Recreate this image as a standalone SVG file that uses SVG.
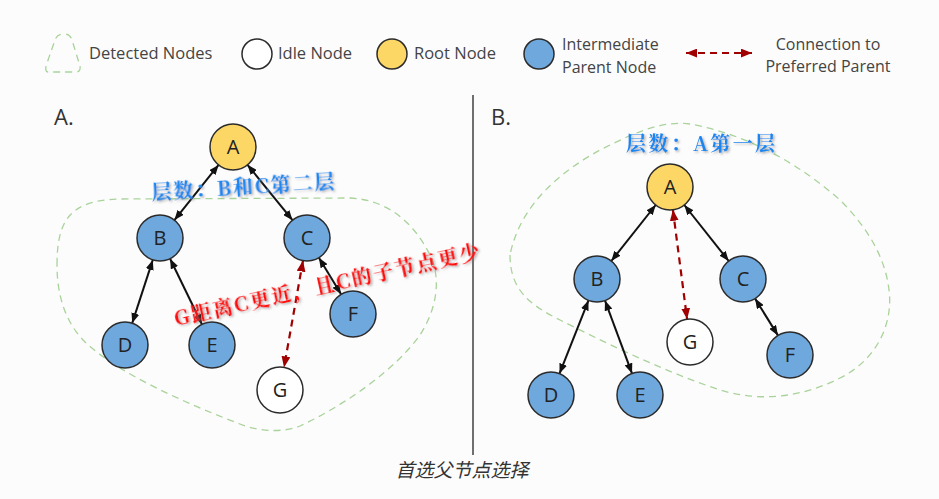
<svg xmlns="http://www.w3.org/2000/svg" width="939" height="499" viewBox="0 0 939 499">
<style>
.bg{fill:#fcfcfc}
.blob{fill:none;stroke:#a9d39a;stroke-width:1.3;stroke-dasharray:7 5}
.node circle{stroke:#2b2b2b;stroke-width:1.5}
.idle{fill:#ffffff}
.root{fill:#fdd765}
.mid{fill:#6fa8dc}
.lbl{font-family:"Open Sans","Lato",sans-serif;font-size:20px;fill:#222;text-anchor:middle}
.leg{font-family:"Open Sans","Lato",sans-serif;font-size:16.5px;fill:#444}
.leg2{font-family:"Open Sans","Lato",sans-serif;font-size:16px;fill:#444}
.edge{stroke:#111;stroke-width:2;fill:none;marker-start:url(#ab);marker-end:url(#ab)}
.pref{stroke:#a00000;stroke-width:2.2;fill:none;stroke-dasharray:7 5;marker-start:url(#ar);marker-end:url(#ar)}
.panel{font-family:"Open Sans","Lato",sans-serif;font-size:22px;fill:#333}
.blue{font-family:"Noto Serif CJK SC","Noto Sans CJK SC",serif;font-weight:bold;font-size:20px;fill:#1e86f0}
.red{font-family:"Noto Serif CJK SC","Noto Sans CJK SC",serif;font-weight:bold;font-size:20px;fill:#ff0a0a}
.cap{font-family:"Noto Sans CJK SC",sans-serif;font-style:italic;font-size:19px;fill:#333;text-anchor:middle}
</style>
<defs>
<marker id="ab" viewBox="0 0 10 8" refX="10" refY="4" markerWidth="10" markerHeight="8" markerUnits="userSpaceOnUse" orient="auto-start-reverse"><path d="M0,0 L10,4 L0,8 z" fill="#111"/></marker>
<marker id="ar" viewBox="0 0 10 8" refX="10" refY="4" markerWidth="11" markerHeight="9" markerUnits="userSpaceOnUse" orient="auto-start-reverse"><path d="M0,0 L10,4 L0,8 z" fill="#a00000"/></marker>
<filter id="sh" x="-10%" y="-30%" width="120%" height="160%"><feDropShadow dx="1.5" dy="1.5" stdDeviation="1.2" flood-color="#777" flood-opacity="0.6"/></filter>
</defs>
<rect class="bg" x="0" y="0" width="939" height="499"/>

<g id="legend">
<path class="blob" d="M48,72 Q45,72 46,66 L55,40 Q57,34 64,34 Q70,34 72,40 L80,66 Q81,72 76,72 Z"/>
<text class="leg" x="89" y="59">Detected Nodes</text>
<circle class="idle" cx="257" cy="54" r="15" stroke="#2b2b2b" stroke-width="1.5"/>
<text class="leg" x="278" y="59">Idle Node</text>
<circle class="root" cx="392" cy="54" r="15" stroke="#2b2b2b" stroke-width="1.5"/>
<text class="leg" x="414" y="59">Root Node</text>
<circle class="mid" cx="539" cy="54" r="15" stroke="#2b2b2b" stroke-width="1.5"/>
<text class="leg2" x="562" y="50">Intermediate</text>
<text class="leg2" x="562" y="72.5">Parent Node</text>
<line class="pref" x1="686" y1="53" x2="752" y2="53"/>
<text class="leg2" x="828" y="49.5" text-anchor="middle">Connection to</text>
<text class="leg2" x="828" y="72" text-anchor="middle">Preferred Parent</text>
</g>

<line x1="473" y1="95" x2="473" y2="455" stroke="#111" stroke-width="1.2"/>
<text class="panel" x="54" y="125">A.</text>
<text class="panel" x="491" y="125">B.</text>

<path class="blob" d="M57,265 C57,220 70,200 120,199 L350,198 C390,200 415,225 430,255 C442,280 436,310 420,335 C395,370 345,405 300,426 C285,432 265,432 245,426 C190,405 120,375 85,342 C65,322 57,295 57,265 Z"/>
<path class="blob" d="M510,255 C510,290 530,305 560,320 C600,340 660,370 720,390 C760,402 800,398 840,378 C880,358 893,320 889,290 C885,255 865,225 840,200 C800,165 750,135 690,124 C660,120 630,135 600,150 C560,172 520,205 510,255 Z"/>

<g id="connectors">
<line class="edge" x1="218.6" y1="164.9" x2="174.4" y2="220.1"/>
<line class="edge" x1="247.5" y1="164.8" x2="292.5" y2="220.2"/>
<line class="edge" x1="152.8" y1="259.9" x2="132.2" y2="323.1"/>
<line class="edge" x1="170.1" y1="258.7" x2="201.9" y2="324.3"/>
<line class="edge" x1="318.9" y1="257.7" x2="341.1" y2="294.3"/>
<line class="pref" x1="303" y1="260.6" x2="284" y2="367.4"/>
<line class="edge" x1="655.7" y1="205" x2="611.3" y2="261"/>
<line class="edge" x1="684.3" y1="205" x2="728.7" y2="261"/>
<line class="pref" x1="672.9" y1="209.8" x2="687.1" y2="319.2"/>
<line class="edge" x1="588.5" y1="300.4" x2="559.5" y2="373.6"/>
<line class="edge" x1="605" y1="300.6" x2="632" y2="373.4"/>
<line class="edge" x1="755.1" y1="298.6" x2="777.9" y2="335.4"/>
</g>

<g id="a-A" class="node"><circle class="root" cx="233" cy="147" r="23"/><text class="lbl" x="233" y="154">A</text></g>
<g id="a-B" class="node"><circle class="mid" cx="160" cy="238" r="23"/><text class="lbl" x="160" y="245">B</text></g>
<g id="a-C" class="node"><circle class="mid" cx="307" cy="238" r="23"/><text class="lbl" x="307" y="245">C</text></g>
<g id="a-D" class="node"><circle class="mid" cx="125" cy="345" r="23"/><text class="lbl" x="125" y="352">D</text></g>
<g id="a-E" class="node"><circle class="mid" cx="212" cy="345" r="23"/><text class="lbl" x="212" y="352">E</text></g>
<g id="a-F" class="node"><circle class="mid" cx="353" cy="314" r="23"/><text class="lbl" x="353" y="321">F</text></g>
<g id="a-G" class="node"><circle class="idle" cx="280" cy="390" r="23"/><text class="lbl" x="280" y="397">G</text></g>

<g id="b-A" class="node"><circle class="root" cx="670" cy="187" r="23"/><text class="lbl" x="670" y="194">A</text></g>
<g id="b-B" class="node"><circle class="mid" cx="597" cy="279" r="23"/><text class="lbl" x="597" y="286">B</text></g>
<g id="b-C" class="node"><circle class="mid" cx="743" cy="279" r="23"/><text class="lbl" x="743" y="286">C</text></g>
<g id="b-G" class="node"><circle class="idle" cx="690" cy="342" r="23"/><text class="lbl" x="690" y="349">G</text></g>
<g id="b-F" class="node"><circle class="mid" cx="790" cy="355" r="23"/><text class="lbl" x="790" y="362">F</text></g>
<g id="b-D" class="node"><circle class="mid" cx="551" cy="395" r="23"/><text class="lbl" x="551" y="402">D</text></g>
<g id="b-E" class="node"><circle class="mid" cx="640" cy="395" r="23"/><text class="lbl" x="640" y="402">E</text></g>

<text class="blue" filter="url(#sh)" x="152" y="200" textLength="183" lengthAdjust="spacing" transform="rotate(-3.5 152 200)">层数：B和C第二层</text>
<text class="red" filter="url(#sh)" x="176" y="326" textLength="312" lengthAdjust="spacing" transform="rotate(-12.5 176 326)">G距离C更近，且C的子节点更少</text>
<text class="blue" filter="url(#sh)" x="626" y="151" textLength="149" lengthAdjust="spacing">层数：A第一层</text>

<text class="cap" x="462" y="477">首选父节点选择</text>
</svg>
